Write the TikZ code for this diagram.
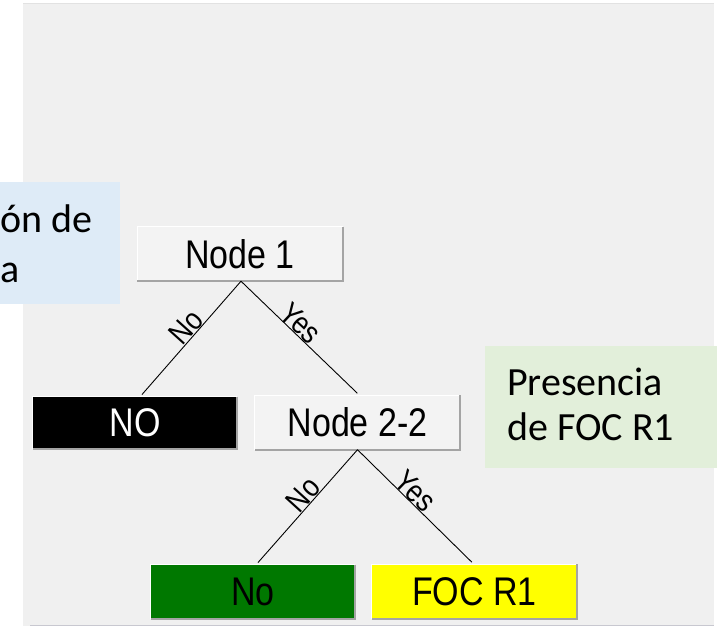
\documentclass[tikz,border=0pt]{standalone}
\usepackage{fontspec}
\usetikzlibrary{calc}
\newfontfamily\treefont[FakeStretch=0.85]{Liberation Sans}
\newfontfamily\notefont{Carlito}
\definecolor{panelgray}{HTML}{F0F0F0}
\definecolor{nodegray}{HTML}{F3F3F3}
\definecolor{shadowgray}{HTML}{A4A4A4}
\definecolor{bottomline}{HTML}{C8C8D0}
\definecolor{topline}{HTML}{E2E2E2}
\definecolor{noteblue}{HTML}{DEEBF7}
\definecolor{notegreen}{HTML}{E2EFDA}
\definecolor{leafgreen}{HTML}{007800}
\definecolor{leafyellow}{HTML}{FFFF00}
\newcommand\mybevel[1]{%
  \draw[white, line width=1.2pt] (#1.south west) |- (#1.north east);
  \draw[shadowgray, line width=1.8pt] (#1.north east) |- (#1.south west);
}
\begin{document}
\begin{tikzpicture}[x=1pt,y=-1pt,
  treebox/.style={minimum width=205pt, minimum height=54pt, inner sep=0pt,
    fill=nodegray, font=\treefont\fontsize{40}{42}\selectfont},
  edgelab/.style={font=\treefont\fontsize{31}{32}\selectfont, inner sep=0pt, anchor=south},
  link/.style={draw=black, line width=0.9pt, shorten >=3pt},
  notetext/.style={font=\notefont\fontsize{40}{45}\selectfont, inner sep=0pt, text=black}
]
\useasboundingbox (0,0) rectangle (727,627);
% panel
\fill[panelgray] (23,3) rectangle (714,626);
\draw[topline, line width=0.8pt] (23,3.4) -- (714,3.4);
\draw[bottomline, line width=1.5pt] (30,625.5) -- (714,625.5);

% blue note (cut by the left edge)
\fill[noteblue] (-5,182) rectangle (120,304);
\node[notetext, anchor=base west] (bluea) at (0,232) {ón de};
\node[notetext, anchor=base west] (blueb) at (0,282) {a};

% green note
\fill[notegreen] (485,346) rectangle (717,468);
\node[notetext, anchor=base west] (greena) at (507,395) {Presencia};
\node[notetext, anchor=base west] (greenb) at (507,440) {de FOC R1};

% tree nodes
\node[treebox] (n1) at (240,254) {Node 1};
\node[treebox, fill=black, text=white, minimum width=204pt, minimum height=52pt] (leafno) at (135,423) {NO};
\node[treebox] (n22) at (357.5,422.5) {Node 2-2};
\node[treebox, fill=leafgreen, minimum width=204pt] (leafg) at (253,592) {No};
\node[treebox, fill=leafyellow] (leafy) at (474.5,591.5) {FOC R1};
\mybevel{n1}
\mybevel{leafno}
\mybevel{n22}
\mybevel{leafg}
\mybevel{leafy}

% connectors
\draw[link] ($(n1.south)+(1,0)$) -- node[edgelab, pos=0.46, rotate=48] {No} ($(leafno.north)+(5,0)$);
\draw[link] ($(n1.south)+(1,0)$) -- node[edgelab, pos=0.44, rotate=-43] {Yes} ($(n22.north)+(2,0)$);
\draw[link] (n22.south) -- node[edgelab, pos=0.455, rotate=47.7] {No} ($(leafg.north)+(3,0)$);
\draw[link] (n22.south) -- node[edgelab, pos=0.43, rotate=-44] {Yes} ($(leafy.north)+(-0.5,0)$);
\end{tikzpicture}
\end{document}
